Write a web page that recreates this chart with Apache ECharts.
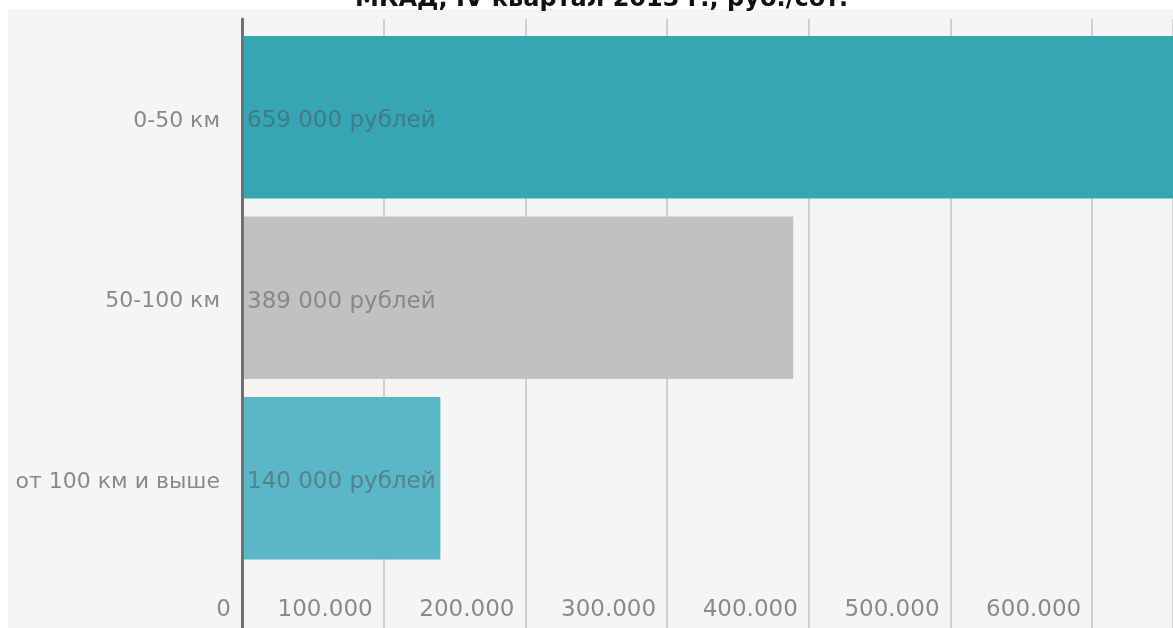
<!DOCTYPE html>
<html>
<head>
<meta charset="utf-8">
<script src="https://cdn.jsdelivr.net/npm/echarts@6/dist/echarts.min.js"></script>
<style>
  html, body { margin: 0; padding: 0; background: #ffffff; }
  #bg { position: absolute; left: 8px; top: 9px; right: 0; bottom: 0; background: #f5f5f5; }
  #chart { position: absolute; left: 0; top: 0; width: 1173px; height: 628px; }
</style>
</head>
<body>
<div id="bg"></div>
<div id="chart"></div>
<script>
const titleText = 'МКАД, IV квартал 2013 г., руб./сот.';
const categories = ['0-50 км', '50-100 км', 'от 100 км и выше'];
const values = [659000, 389000, 140000];
const valueLabels = ['659 000 рублей', '389 000 рублей', '140 000 рублей'];
const axisMax = 657000;
const axisStep = 100000;

const barColors = ['#36a6b5', '#c1c1c1', '#5ab7c6'];
const font = 'DejaVu Sans';

const chart = echarts.init(document.getElementById('chart'), null, { renderer: 'canvas' });
chart.setOption({
  animation: false,
  backgroundColor: 'transparent',
  title: {
    text: titleText,
    left: 350,
    top: -17,
    textStyle: { fontFamily: 'DejaVu Sans', fontWeight: 'bold', fontSize: 24, color: '#111' }
  },
  grid: [
    { left: 242, right: 0, top: 27, bottom: 59.5 },
    { left: 242, right: 0, top: 19, bottom: 0 }
  ],
  xAxis: [
    {
      gridIndex: 0, type: 'value', min: 0, max: axisMax, interval: axisStep,
      axisLine: { show: false }, axisTick: { show: false }, splitLine: { show: false },
      axisLabel: {
        showMaxLabel: false,
        margin: 30, align: 'right', padding: [0, 11, 0, 0],
        color: '#8a8a8a', fontFamily: font, fontSize: 23,
        formatter: v => (v % axisStep === 0 ? (v === 0 ? '0' : String(v / 1000) + '.000') : '')
      }
    },
    {
      gridIndex: 1, type: 'value', min: 0, max: axisMax, interval: axisStep,
      axisLine: { show: false }, axisTick: { show: false }, axisLabel: { show: false },
      splitLine: { show: true, lineStyle: { color: '#d0d0d0', width: 2 } }
    }
  ],
  yAxis: [
    {
      gridIndex: 0, type: 'category', data: categories, inverse: true,
      axisLine: { show: false }, axisTick: { show: false },
      axisLabel: { margin: 22, color: '#8a8a8a', fontFamily: font, fontSize: 22, verticalAlign: 'top', lineHeight: 8 }
    },
    {
      gridIndex: 1, type: 'value', min: 0, max: 1, z: 5,
      axisLine: { show: true, lineStyle: { color: '#707070', width: 3 } },
      axisTick: { show: false }, axisLabel: { show: false }, splitLine: { show: false }
    }
  ],
  series: [{
    type: 'bar',
    xAxisIndex: 0, yAxisIndex: 0,
    barCategoryGap: '10%',
    data: values.map((v, i) => ({ value: v, itemStyle: { color: barColors[i] } })),
    label: {
      show: true, position: 'insideLeft', distance: 5, offset: [0, 4],
      fontFamily: font, fontSize: 23, color: 'rgba(80,80,80,0.5)',
      formatter: p => valueLabels[p.dataIndex]
    },
    z: 2
  }]
});
</script>
</body>
</html>
